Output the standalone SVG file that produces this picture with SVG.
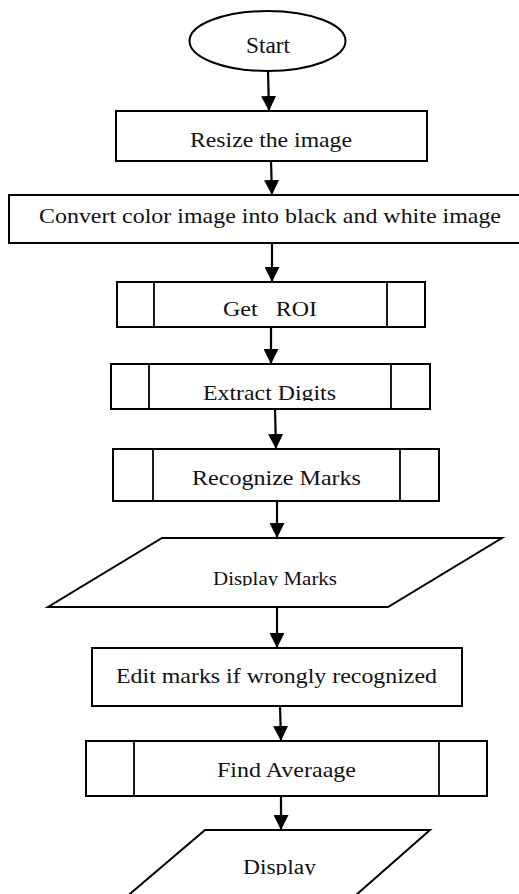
<svg xmlns="http://www.w3.org/2000/svg" width="519" height="894" viewBox="0 0 519 894">
<style>
.s{fill:#fff;stroke:#000;stroke-width:2}
.d{fill:none;stroke:#000;stroke-width:1.8}
.t{font-family:"Liberation Serif","Times New Roman",serif;fill:#111;text-anchor:start}
.c{stroke:#000;stroke-width:2.2;fill:none}
</style>
<defs>
<marker id="ah" markerUnits="userSpaceOnUse" markerWidth="15" markerHeight="15" refX="15" refY="7.5" orient="auto" viewBox="0 0 15 15">
<path d="M0,0 L15,7.5 L0,15 z" fill="#000"/>
</marker>
<clipPath id="c1"><rect x="0" y="0" width="519" height="401"/></clipPath>
<clipPath id="c2"><rect x="0" y="0" width="519" height="586"/></clipPath>
<clipPath id="c3"><rect x="0" y="0" width="519" height="875"/></clipPath>
</defs>
<g id="connectors">
<line class="c" x1="268" y1="71" x2="269" y2="111" marker-end="url(#ah)"/>
<line class="c" x1="271" y1="161" x2="272" y2="195" marker-end="url(#ah)"/>
<line class="c" x1="272" y1="243" x2="272" y2="282" marker-end="url(#ah)"/>
<line class="c" x1="271" y1="327" x2="271" y2="364" marker-end="url(#ah)"/>
<line class="c" x1="275" y1="409" x2="276" y2="449" marker-end="url(#ah)"/>
<line class="c" x1="277" y1="501" x2="277" y2="538" marker-end="url(#ah)"/>
<line class="c" x1="277" y1="607" x2="277" y2="648" marker-end="url(#ah)"/>
<line class="c" x1="280" y1="706" x2="281" y2="741" marker-end="url(#ah)"/>
<line class="c" x1="281" y1="796" x2="281" y2="830" marker-end="url(#ah)"/>
</g>
<g id="start">
<ellipse class="s" cx="267.5" cy="41" rx="78" ry="30"/>
<text class="t" x="246" y="53" font-size="24" textLength="44" lengthAdjust="spacingAndGlyphs">Start</text>
</g>
<g id="resize">
<rect class="s" x="116" y="111" width="311" height="50"/>
<text class="t" x="190" y="147" font-size="22" textLength="162" lengthAdjust="spacingAndGlyphs">Resize the image</text>
</g>
<g id="convert">
<rect class="s" x="9" y="195" width="520" height="48"/>
<text class="t" x="39" y="223" font-size="21" textLength="462" lengthAdjust="spacingAndGlyphs">Convert color image into black and white image</text>
</g>
<g id="getroi">
<rect class="s" x="117" y="282" width="308" height="45"/>
<line class="d" x1="154" y1="282" x2="154" y2="327"/>
<line class="d" x1="387" y1="282" x2="387" y2="327"/>
<text class="t" x="223" y="316" font-size="21" textLength="94" lengthAdjust="spacingAndGlyphs" xml:space="preserve">Get   ROI</text>
</g>
<g id="extract">
<rect class="s" x="111" y="364" width="319" height="45"/>
<line class="d" x1="149" y1="364" x2="149" y2="409"/>
<line class="d" x1="391" y1="364" x2="391" y2="409"/>
<text class="t" x="203" y="400" font-size="21" textLength="133" lengthAdjust="spacingAndGlyphs" clip-path="url(#c1)">Extract Digits</text>
</g>
<g id="recognize">
<rect class="s" x="113" y="449" width="326" height="52"/>
<line class="d" x1="153" y1="449" x2="153" y2="501"/>
<line class="d" x1="400" y1="449" x2="400" y2="501"/>
<text class="t" x="192" y="485" font-size="21" textLength="169" lengthAdjust="spacingAndGlyphs">Recognize Marks</text>
</g>
<g id="displaymarks">
<polygon class="s" points="162,538 502,538 388,607 48,607"/>
<text class="t" x="213" y="585" font-size="19" textLength="124" lengthAdjust="spacingAndGlyphs" clip-path="url(#c2)">Display Marks</text>
</g>
<g id="edit">
<rect class="s" x="92" y="648" width="370" height="58"/>
<text class="t" x="116" y="683" font-size="22" textLength="321" lengthAdjust="spacingAndGlyphs">Edit marks if wrongly recognized</text>
</g>
<g id="findavg">
<rect class="s" x="86" y="741" width="401" height="55"/>
<line class="d" x1="134" y1="741" x2="134" y2="796"/>
<line class="d" x1="439" y1="741" x2="439" y2="796"/>
<text class="t" x="217" y="777" font-size="21" textLength="139" lengthAdjust="spacingAndGlyphs">Find Averaage</text>
</g>
<g id="display">
<polygon class="s" points="205,830 430,830 339,910 111,910"/>
<text class="t" x="243" y="874" font-size="20" textLength="73" lengthAdjust="spacingAndGlyphs" clip-path="url(#c3)">Display</text>
</g>
</svg>
